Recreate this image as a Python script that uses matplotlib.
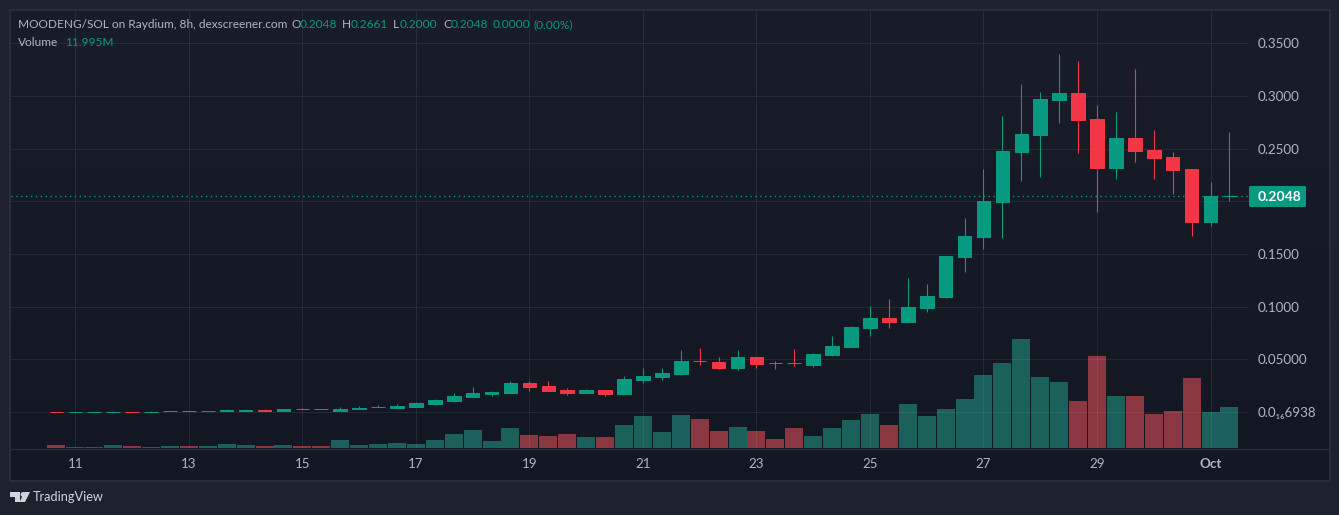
import numpy as np
import matplotlib
matplotlib.use('Agg')
import matplotlib.pyplot as plt
from matplotlib.patches import Rectangle, Circle, Polygon, FancyBboxPatch

# 8h candles, 10 Sep 16:00 onwards
opens = [0.0001, 0.0000, 0.0000, 0.0000, 0.0001, 0.0000, 0.0005, 0.0008, 0.0005, 0.0014,
         0.0014, 0.0017, 0.0009, 0.0027, 0.0027, 0.0009, 0.0033, 0.0043, 0.0038, 0.0047,
         0.0076, 0.0104, 0.0142, 0.0171, 0.0180, 0.0275, 0.0247, 0.0209, 0.0180, 0.0209,
         0.0171, 0.0304, 0.0332, 0.0361, 0.0484, 0.0475, 0.0418, 0.0522, 0.0467, 0.0467,
         0.0446, 0.0541, 0.0617, 0.0797, 0.0892, 0.0854, 0.0987, 0.1091, 0.1471, 0.1661,
         0.1993, 0.2467, 0.2629, 0.2961, 0.3027, 0.2781, 0.2316, 0.2600, 0.2486, 0.2420,
         0.2306, 0.1803, 0.2048]
closes = [0.0000, 0.0001, 0.0001, 0.0001, 0.0000, 0.0001, 0.0008, 0.0005, 0.0008, 0.0017,
          0.0017, 0.0014, 0.0028, 0.0024, 0.0024, 0.0028, 0.0036, 0.0046, 0.0057, 0.0085,
          0.0114, 0.0152, 0.0180, 0.0190, 0.0275, 0.0237, 0.0199, 0.0180, 0.0209, 0.0171,
          0.0313, 0.0342, 0.0370, 0.0484, 0.0480, 0.0418, 0.0522, 0.0456, 0.0465, 0.0465,
          0.0550, 0.0626, 0.0807, 0.0892, 0.0854, 0.0996, 0.1101, 0.1480, 0.1670, 0.2002,
          0.2477, 0.2638, 0.2970, 0.3027, 0.2771, 0.2316, 0.2600, 0.2477, 0.2410, 0.2297,
          0.1803, 0.2048, 0.2048]
highs = [0.0001, 0.0001, 0.0001, 0.0010, 0.0001, 0.0010, 0.0008, 0.0008, 0.0008, 0.0028,
         0.0032, 0.0028, 0.0028, 0.0038, 0.0027, 0.0047, 0.0057, 0.0066, 0.0076, 0.0095,
         0.0123, 0.0180, 0.0237, 0.0199, 0.0294, 0.0294, 0.0294, 0.0228, 0.0218, 0.0209,
         0.0342, 0.0418, 0.0418, 0.0588, 0.0607, 0.0522, 0.0588, 0.0522, 0.0484, 0.0598,
         0.0560, 0.0721, 0.0816, 0.1006, 0.1072, 0.1272, 0.1215, 0.1480, 0.1841, 0.2306,
         0.2809, 0.3113, 0.3037, 0.3397, 0.3331, 0.2913, 0.2847, 0.3255, 0.2676, 0.2467,
         0.2306, 0.2183, 0.2661]
lows = [0.0000, 0.0000, 0.0000, 0.0000, 0.0000, 0.0000, 0.0005, 0.0005, 0.0005, 0.0014,
        0.0014, 0.0014, 0.0009, 0.0024, 0.0024, 0.0009, 0.0033, 0.0043, 0.0038, 0.0047,
        0.0066, 0.0095, 0.0142, 0.0152, 0.0180, 0.0199, 0.0199, 0.0161, 0.0180, 0.0152,
        0.0171, 0.0275, 0.0304, 0.0351, 0.0446, 0.0408, 0.0399, 0.0418, 0.0408, 0.0437,
        0.0427, 0.0531, 0.0617, 0.0721, 0.0797, 0.0854, 0.0949, 0.1082, 0.1329, 0.1547,
        0.1651, 0.2192, 0.2230, 0.2743, 0.2458, 0.1898, 0.2211, 0.2373, 0.2211, 0.2069,
        0.1670, 0.1765, 0.2000]
# volume in millions
volumes = [0.88, 0.29, 0.29, 0.88, 0.59, 0.29, 0.59, 0.59, 0.59, 1.17,
           0.88, 0.59, 0.88, 0.59, 0.59, 2.34, 0.88, 1.17, 1.46, 1.17,
           2.34, 4.10, 5.27, 2.05, 5.85, 3.80, 3.51, 4.10, 3.22, 3.22,
           6.73, 9.36, 4.68, 9.65, 8.48, 4.97, 6.14, 4.97, 2.63, 5.85,
           3.51, 5.85, 8.19, 9.95, 6.73, 12.87, 9.36, 11.41, 14.33, 21.35,
           24.86, 31.88, 20.77, 19.31, 13.75, 26.91, 15.21, 15.21, 9.95, 10.82,
           20.48, 10.53, 11.995]

price_ticks = [0.35, 0.30, 0.25, 0.20, 0.15, 0.10, 0.05, 0.0]
# 0.2000 is covered by the last price tag in the reference
price_labels = ['0.3500', '0.3000', '0.2500', '', '0.1500', '0.1000', '0.05000', '0.0\u2081\u20866938']
time_ticks = [1, 7, 13, 19, 25, 31, 37, 43, 49, 55, 61]
time_labels = ['11', '13', '15', '17', '19', '21', '23', '25', '27', '29', 'Oct']

UP = '#089981'
DOWN = '#f23645'
UP_VOL = '#1b605a'
DOWN_VOL = '#8a3742'
TEXT = '#b2b5be'
LINE = '#2a2e39'
FONT = ['Lato', 'DejaVu Sans']

W, H = 1339, 515
L, R, T, B = 11, 1249, 11, 448  # plot box, in pixels
STEP = 18.92  # pixels per candle

plt.rcParams['font.family'] = FONT

fig = plt.figure(figsize=(W / 100, H / 100), dpi=100, facecolor='#1e222d')


def box(l, r, t, b):
    return [l / W, 1 - b / H, (r - l) / W, (b - t) / H]


# panel with soft vertical gradient
bg = fig.add_axes([0, 0, 1, 1], zorder=0)
bg.set_xlim(0, W)
bg.set_ylim(H, 0)
bg.axis('off')
grad = np.linspace(0, 1, 256).reshape(-1, 1)
top_c = np.array([0x19, 0x1d, 0x29]) / 255
bot_c = np.array([0x13, 0x17, 0x22]) / 255
bg.imshow(top_c + (bot_c - top_c) * grad[..., None], extent=[10, 1329, 480, 10], aspect='auto', zorder=1)
bg.set_xlim(0, W)
bg.set_ylim(H, 0)
bg.add_patch(Rectangle((9.5, 9.5), 1320, 471, fill=False, ec=LINE, lw=1.44, zorder=2))
bg.plot([10, 1329], [448.5, 448.5], color=LINE, lw=1, zorder=2)

x = np.arange(len(opens))
o = np.array(opens)
c = np.array(closes)
colors = [UP if cl >= op else DOWN for op, cl in zip(opens, closes)]
vol_colors = [UP_VOL if cl >= op else DOWN_VOL for op, cl in zip(opens, closes)]
x_lim = ((L - 56.4) / STEP, (R - 56.4) / STEP)

# volume sits in its own scale under the candles
ax_vol = fig.add_axes(box(L, R, T, B), zorder=1)
ax_vol.patch.set_alpha(0)
ax_vol.bar(x, volumes, width=0.95, color=vol_colors, linewidth=0)
ax_vol.set_xlim(*x_lim)
ax_vol.set_ylim(0, 127.8)
ax_vol.axis('off')

ax = fig.add_axes(box(L, R, T, B), zorder=2)
ax.patch.set_alpha(0)
ax.vlines(x, lows, highs, colors=colors, linewidth=0.8, zorder=3)
ax.bar(x, np.abs(c - o), bottom=np.minimum(o, c), width=0.72, color=colors,
       edgecolor=colors, linewidth=0.72, zorder=4)
ax.axhline(closes[-1], color=UP, lw=1, ls=(0, (1, 2.5)), zorder=2)

ax.set_xlim(*x_lim)
ax.set_ylim((412 - B) / 1054, (412 - T) / 1054)
ax.yaxis.tick_right()
ax.set_yticks(price_ticks)
ax.set_yticklabels(price_labels, color=TEXT, fontsize=9.6)
ax.set_xticks(time_ticks)
ax.set_xticklabels(time_labels, color=TEXT, fontsize=9.6)
ax.get_xticklabels()[-1].set_fontweight('bold')
ax.tick_params(axis='both', length=0)
ax.tick_params(axis='y', pad=6.5)
ax.tick_params(axis='x', pad=7)
ax.grid(True, color='white', alpha=0.07, lw=0.8, zorder=0)
ax.set_axisbelow(True)
for s in ax.spines.values():
    s.set_visible(False)

# overlay in pixel coordinates: header, price label, logo
top = fig.add_axes([0, 0, 1, 1], zorder=3)
top.set_xlim(0, W)
top.set_ylim(H, 0)
top.axis('off')
top.patch.set_alpha(0)

header = [(18, 'MOODENG/SOL on Raydium, 8h, dexscreener.com', TEXT),
          (291, 'O', TEXT), (300, '0.2048', UP),
          (342, 'H', TEXT), (351, '0.2661', UP),
          (393, 'L', TEXT), (400, '0.2000', UP),
          (443, 'C', TEXT), (451, '0.2048', UP),
          (493, '0.0000', UP), (534, '(0.00%)', UP)]
for px, s, col in header:
    top.text(px, 25, s, color=col, fontsize=8.6, va='center', ha='left')
top.text(18, 42, 'Volume', color=TEXT, fontsize=8.6, va='center', ha='left')
top.text(65, 42, '11.995M', color=UP, fontsize=8.6, va='center', ha='left')

top.add_patch(FancyBboxPatch((1249, 186), 57, 21, boxstyle='round,pad=0,rounding_size=1.5',
                             fc=UP, ec='none'))
top.text(1280, 197, f'{closes[-1]:.4f}', color='white', fontsize=10, fontweight='bold',
         va='center', ha='center')

# TradingView mark
logo = '#d1d4dc'
top.add_patch(Polygon([(10, 492), (20, 492), (20, 502), (15, 502), (15, 497), (10, 497)], fc=logo, ec='none'))
top.add_patch(Circle((23, 494.5), 2.4, fc=logo, ec='none'))
top.add_patch(Polygon([(25, 502), (19.5, 502), (24.5, 492), (30, 492)], fc=logo, ec='none'))
top.text(33, 497, 'TradingView', color=logo, fontsize=9.2, va='center', ha='left')

fig.savefig('out.png', dpi=100, facecolor=fig.get_facecolor())
